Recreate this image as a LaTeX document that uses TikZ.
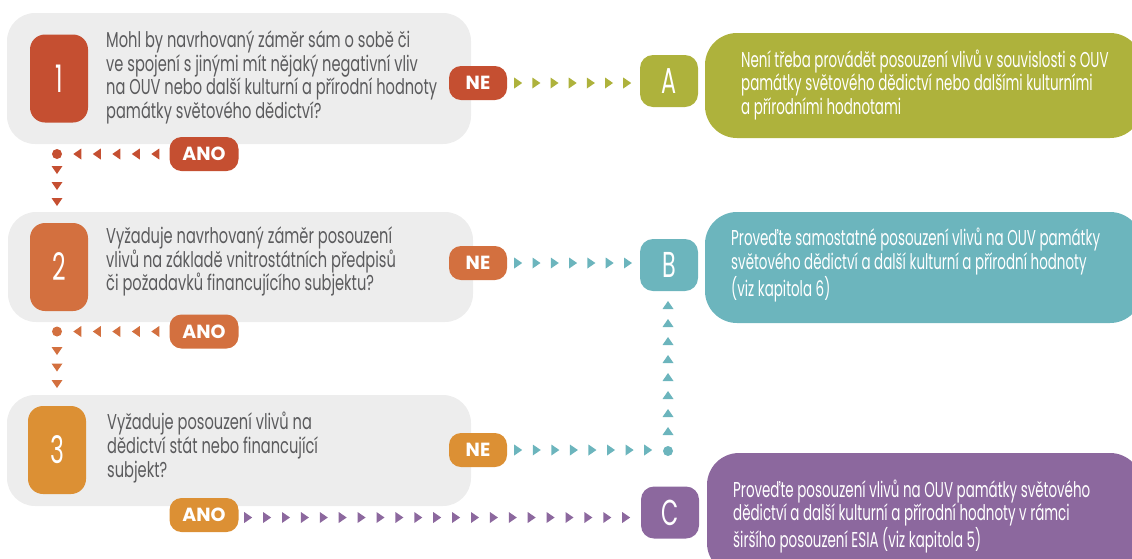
\documentclass[tikz,border=0pt]{standalone}
\usepackage{fontspec}
\usetikzlibrary{decorations.markings}
\newfontfamily\condq{Poppins}[FakeStretch=0.68]
\newfontfamily\condr{Poppins}[FakeStretch=0.625]
\newfontfamily\bigf{Poppins}[FakeStretch=0.62]
\newfontfamily\pillf{Poppins}
\definecolor{crust}{HTML}{C54F31}
\definecolor{corng}{HTML}{D3703F}
\definecolor{cochre}{HTML}{DC9034}
\definecolor{colive}{HTML}{AEB23C}
\definecolor{cteal}{HTML}{6CB5BD}
\definecolor{cpurp}{HTML}{8C689E}
\definecolor{lgray}{HTML}{EDEDED}
\definecolor{tgray}{HTML}{5B5B5D}
\begin{document}
\begin{tikzpicture}[x=1pt,y=-1pt,
  qbox/.style={fill=lgray, rounded corners=28pt, inner sep=0pt},
  numbox/.style={fill=#1, rounded corners=15pt, inner sep=0pt, minimum width=58pt, minimum height=88pt,
    text=white, font=\bigf\fontsize{38}{38}\selectfont},
  letbox/.style={fill=#1, rounded corners=13pt, inner sep=0pt, minimum width=58pt, minimum height=52pt,
    text=white, font=\bigf\fontsize{36}{36}\selectfont},
  resbox/.style={fill=#1, rounded corners=32pt, inner sep=0pt},
  pill/.style={fill=#1, rounded corners=12pt, inner sep=0pt, minimum height=34pt,
    text=white, font=\pillf\bfseries\fontsize{19}{19}\selectfont},
  qtext/.style={text=tgray, align=left, anchor=west, inner sep=0pt,
    font=\condq\fontsize{21.5}{23.7}\selectfont},
  rtext/.style={text=white, align=left, anchor=west, inner sep=0pt,
    font=\condr\fontsize{21.5}{23.5}\selectfont},
  dotnode/.style={circle, fill=#1, inner sep=0pt, minimum size=10pt},
  trail/.style n args={4}{decoration={markings,
      mark=between positions #2 and #3 step #4 with {\fill[#1] (4pt,0pt) -- (-4pt,5.5pt) -- (-4pt,-5.5pt) -- cycle;}},
    decorate}
]
\useasboundingbox (0,0) rectangle (1132,558);
\clip (0,0) rectangle (1132,558);

% question boxes
\node[qbox, minimum width=464pt, minimum height=131pt] (q1) at (239,78.5) {};
\node[qbox, minimum width=465pt, minimum height=110pt] (q2) at (240.5,267) {};
\node[qbox, minimum width=464pt, minimum height=111pt] (q3) at (239,450.5) {};

% number boxes
\node[numbox=crust] (n1) at (59,78.5) {1};
\node[numbox=corng] (n2) at (59,267) {2};
\node[numbox=cochre] (n3) at (57,450) {3};

% question texts
\node[qtext] (t1) at (106,77.5) {Mohl by navrhovaný záměr sám o sobě či\\ve spojení s jinými mít nějaký negativní vliv\\na OUV nebo další kulturní a přírodní hodnoty\\památky světového dědictví?};
\node[qtext] (t2) at (106,261.5) {Vyžaduje navrhovaný záměr posouzení\\vlivů na základě vnitrostátních předpisů\\či požadavků financujícího subjektu?};
\node[qtext] (t3) at (107,447.5) {Vyžaduje posouzení vlivů na\\dědictví stát nebo financující\\subjekt?};

% result boxes
\node[resbox=colive, minimum width=437pt, minimum height=105pt] (ra) at (923.5,85.5) {};
\node[resbox=cteal, minimum width=437pt, minimum height=111pt] (rb) at (923.5,267.5) {};
\node[resbox=cpurp, minimum width=435pt, minimum height=122pt] (rc) at (924.5,514) {};

\node[rtext] (ta) at (741,85) {Není třeba provádět posouzení vlivů v souvislosti s OUV\\památky světového dědictví nebo dalšími kulturními\\a přírodními hodnotami};
\node[rtext] (tb) at (731,265) {Proveďte samostatné posouzení vlivů na OUV památky\\světového dědictví a další kulturní a přírodní hodnoty\\(viz kapitola 6)};
\node[rtext] (tc) at (733,516.5) {Proveďte posouzení vlivů na OUV památky světového\\dědictví a další kulturní a přírodní hodnoty v rámci\\širšího posouzení ESIA (viz kapitola 5)};

% letter boxes
\node[letbox=colive] (la) at (669,81) {A};
\node[letbox=cteal] (lb) at (669,265) {B};
\node[letbox=cpurp] (lc) at (670,512.5) {C};

% pills
\node[pill=crust, minimum width=58pt] (ne1) at (478,83) {NE};
\node[pill=corng, minimum width=58pt] (ne2) at (478,263) {NE};
\node[pill=cochre, minimum width=58pt] (ne3) at (478,450) {NE};
\node[pill=crust, minimum width=69pt] (ano1) at (204,154) {ANO};
\node[pill=corng, minimum width=69pt] (ano2) at (204,331.5) {ANO};
\node[pill=cochre, minimum width=69pt] (ano3) at (204,515) {ANO};

% dots
\node[dotnode=crust] (d1) at (57,154) {};
\node[dotnode=corng] (d2) at (57,331.5) {};
\node[dotnode=cteal] (d3) at (668,451) {};

% connectors
\path[trail={colive}{11pt}{121pt}{18.17pt}] (ne1.east) -- (ne1.east -| la.west);
\path[trail={cteal}{11pt}{122pt}{18.3pt}] (ne2.east) -- (ne2.east -| lb.west);
\path[trail={cteal}{11pt}{142pt}{18.57pt}] (ne3.east) -- (ne3.east -| d3.center);
\path[trail={cteal}{20pt}{147pt}{18pt}] (d3.center) -- (d3.center |- lb.south);
\path[trail={crust}{14pt}{93pt}{19.5pt}] (ano1.west) -- (d1.center);
\path[trail={crust}{16pt}{49pt}{16pt}] (d1.center) -- (d1.center |- q2.north);
\path[trail={corng}{14pt}{93pt}{19.5pt}] (ano2.west) -- (d2.center);
\path[trail={corng}{19.5pt}{53pt}{16.5pt}] (d2.center) -- (d2.center |- q3.north);
\path[trail={cpurp}{9.5pt}{388pt}{18.9pt}] ([yshift=-2.5pt]ano3.east) -- ([yshift=-2.5pt]ano3.east -| lc.west);
\end{tikzpicture}
\end{document}
